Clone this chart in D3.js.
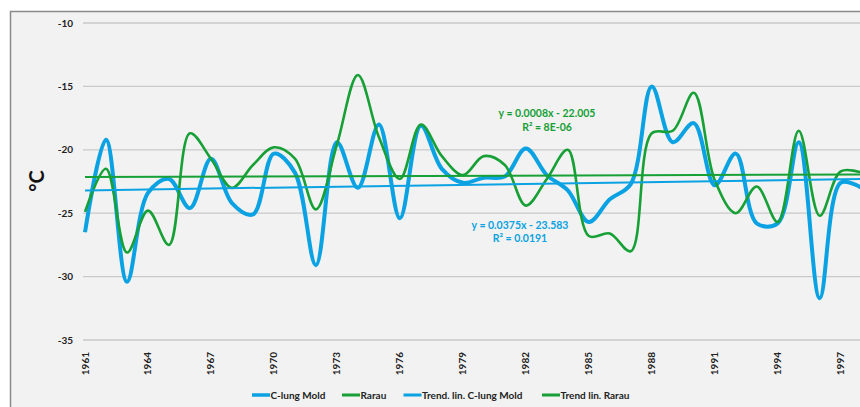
<!DOCTYPE html>
<html><head><meta charset="utf-8">
<script src="https://cdn.jsdelivr.net/npm/d3@7"></script>
<style>
html,body{margin:0;padding:0;background:#fff;overflow:hidden;}
text{font-family:Lato,"Open Sans",sans-serif;}
</style></head>
<body><svg id="c" width="860" height="407"></svg>
<script>
const years = [1961,1962,1963,1964,1965,1966,1967,1968,1969,1970,1971,1972,1973,1974,1975,1976,1977,1978,1979,1980,1981,1982,1983,1984,1985,1986,1987,1988,1989,1990,1991,1992,1993,1994,1995,1996,1997,1998];
const moldValues = [-26.5,-19.2,-30.4,-23.4,-22.3,-24.6,-20.7,-24.2,-25.1,-20.3,-21.8,-29.1,-19.4,-23.0,-18.0,-25.4,-18.1,-21.5,-22.6,-22.2,-22.1,-19.9,-22.0,-23.2,-25.7,-23.9,-22.7,-15.0,-19.4,-17.9,-22.8,-20.3,-25.8,-25.8,-19.4,-31.7,-22.6,-23.0];
const rarauValues = [-24.9,-21.5,-28.1,-24.8,-27.5,-18.7,-20.7,-23.0,-21.2,-19.8,-20.7,-24.7,-19.6,-14.1,-19.0,-22.3,-18.0,-20.5,-22.0,-20.5,-21.2,-24.4,-22.3,-20.0,-26.8,-26.6,-28.0,-18.7,-18.5,-15.5,-22.4,-25.0,-22.9,-25.7,-18.5,-25.2,-21.7,-21.8];
const trendYears = [1961, 1998];
const moldTrend = [-23.2, -22.3];
const rarauTrend = [-22.15, -21.95];
const yTicks = [-35,-30,-25,-20,-15,-10];
const xTicks = [1961,1964,1967,1970,1973,1976,1979,1982,1985,1988,1991,1994,1997];
const seriesNames = ["C-lung Mold","Rarau","Trend. lin. C-lung Mold","Trend lin. Rarau"];
const moldEq = ["y = 0.0375x - 23.583","R² = 0.0191"];
const rarauEq = ["y = 0.0008x - 22.005","R² = 8E-06"];

const blue = "#0aa2e2", green = "#16a036";
const svg = d3.select("#c");
// chart background & border
svg.append("rect").attr("x",10.5).attr("y",11.5).attr("width",880).attr("height",420)
  .attr("fill","#f2f2f2").attr("stroke","#8a8a8a").attr("stroke-width",1.5);

const x = d3.scaleLinear().domain([1961,1997]).range([85,840.7]);
const y = d3.scaleLinear().domain([-35,-10]).range([340,23]);

// gridlines
svg.append("g").selectAll("line").data(yTicks).join("line")
  .attr("x1",83).attr("x2",870).attr("y1",d=>y(d)).attr("y2",d=>y(d))
  .attr("stroke","#c9c9c9").attr("stroke-width",1.3);

// y axis labels
svg.append("g").selectAll("text").data(yTicks).join("text")
  .attr("x",73).attr("y",d=>y(d)).attr("dy","0.35em").attr("text-anchor","end")
  .attr("font-size",10).attr("font-weight","bold").attr("fill","#222").text(d=>d);

// x axis labels
svg.append("g").selectAll("text").data(xTicks).join("text")
  .attr("transform",d=>`translate(${x(d)},352) rotate(-90)`)
  .attr("dy","0.35em").attr("text-anchor","end")
  .attr("font-size",10).attr("font-weight","bold").attr("fill","#222").text(d=>d);

// y title
svg.append("text").attr("transform","translate(37,181) rotate(-90)")
  .attr("text-anchor","middle").attr("dy","0.35em")
  .attr("font-size",20).attr("font-weight","bold").attr("fill","#111").text("°C");

const line = d3.line().x((d,i)=>x(years[i])).y(d=>y(d)).curve(d3.curveCatmullRom.alpha(0.5));
svg.append("path").attr("d",line(moldValues)).attr("fill","none").attr("stroke",blue).attr("stroke-width",4).attr("stroke-linejoin","round");
svg.append("path").attr("d",line(rarauValues)).attr("fill","none").attr("stroke",green).attr("stroke-width",2.6).attr("stroke-linejoin","round");

const tline = d3.line().x((d,i)=>x(trendYears[i])).y(d=>y(d));
svg.append("path").attr("d",tline(moldTrend)).attr("fill","none").attr("stroke",blue).attr("stroke-width",2);
svg.append("path").attr("d",tline(rarauTrend)).attr("fill","none").attr("stroke",green).attr("stroke-width",2);

// equations
function eq(lines, cx, cy, col){
  svg.append("g").selectAll("text").data(lines).join("text")
    .attr("x",cx).attr("y",(d,i)=>cy+i*13.5).attr("dy","0.35em").attr("text-anchor","middle")
    .attr("font-size",10.5).attr("font-weight","bold").attr("fill",col).text(d=>d);
}
eq(rarauEq, 547, 113.5, green);
eq(moldEq, 520, 225, blue);

// legend
const legendItems = [
  {name:seriesNames[0], col:blue, x:252, w:3.5},
  {name:seriesNames[1], col:green, x:342, w:3},
  {name:seriesNames[2], col:blue, x:403.5, w:3},
  {name:seriesNames[3], col:green, x:542, w:3}
];
const lg = svg.append("g").selectAll("g").data(legendItems).join("g").attr("transform",d=>`translate(${d.x},395)`);
lg.append("line").attr("x1",0).attr("x2",18).attr("stroke",d=>d.col).attr("stroke-width",d=>d.w);
lg.append("text").attr("x",18.5).attr("dy","0.35em").attr("font-size",10).attr("font-weight","bold").attr("fill","#222").text(d=>d.name);
</script></body></html>
